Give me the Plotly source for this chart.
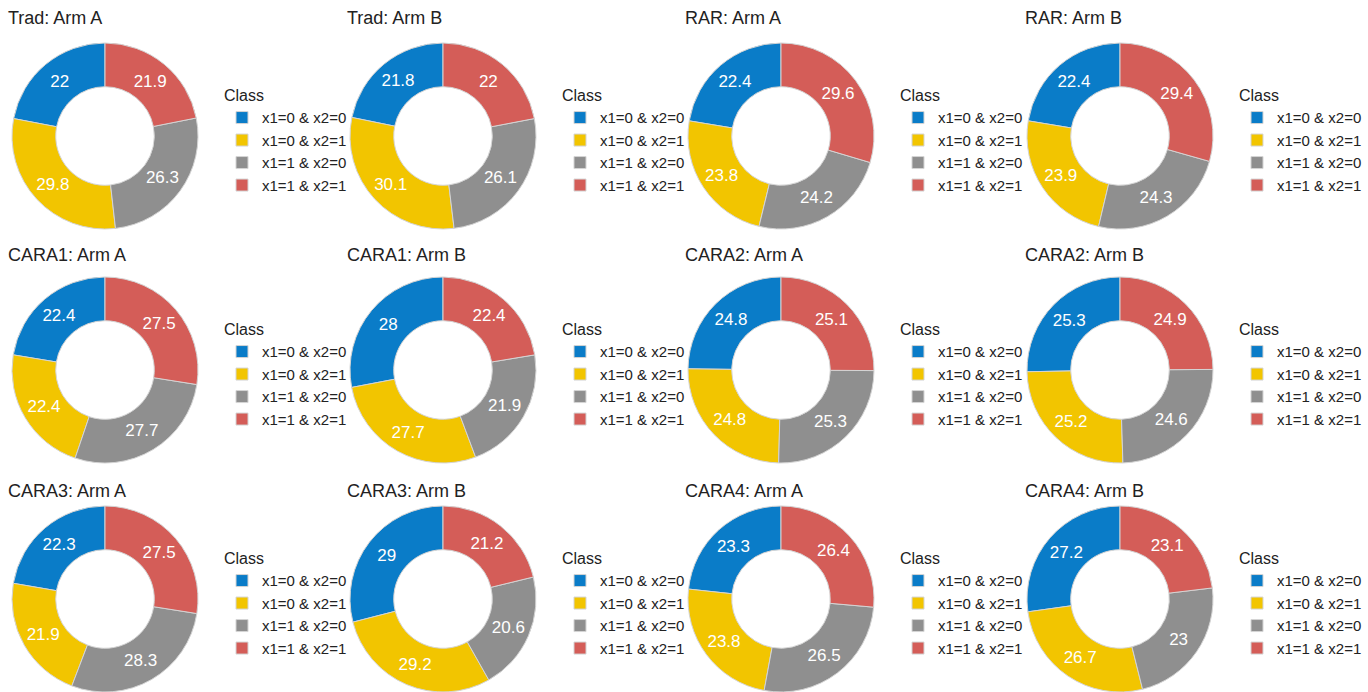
import plotly.graph_objects as go

W, H = 1368, 692

classes = ["x1=0 & x2=0", "x1=0 & x2=1", "x1=1 & x2=0", "x1=1 & x2=1"]
class_colors = ["#0A7CC8", "#F2C500", "#8F8F8F", "#D45D58"]

panel_titles = [
    "Trad: Arm A", "Trad: Arm B", "RAR: Arm A", "RAR: Arm B",
    "CARA1: Arm A", "CARA1: Arm B", "CARA2: Arm A", "CARA2: Arm B",
    "CARA3: Arm A", "CARA3: Arm B", "CARA4: Arm A", "CARA4: Arm B",
]

# percentage of each class per design/arm, in the order of `classes`
trad_a = [22, 29.8, 26.3, 21.9]
trad_b = [21.8, 30.1, 26.1, 22]
rar_a = [22.4, 23.8, 24.2, 29.6]
rar_b = [22.4, 23.9, 24.3, 29.4]
cara1_a = [22.4, 22.4, 27.7, 27.5]
cara1_b = [28, 27.7, 21.9, 22.4]
cara2_a = [24.8, 24.8, 25.3, 25.1]
cara2_b = [25.3, 25.2, 24.6, 24.9]
cara3_a = [22.3, 21.9, 28.3, 27.5]
cara3_b = [29, 29.2, 20.6, 21.2]
cara4_a = [23.3, 23.8, 26.5, 26.4]
cara4_b = [27.2, 26.7, 23, 23.1]

panel_values = [
    trad_a, trad_b, rar_a, rar_b,
    cara1_a, cara1_b, cara2_a, cara2_b,
    cara3_a, cara3_b, cara4_a, cara4_b,
]

# grid geometry in pixels
col_cx = [105, 443, 781, 1120]
row_cy = [136, 370, 599]
radius = 93
title_x = [6, 345, 683, 1023]
title_y = [18, 255, 491]
legend_x = [222, 560, 898, 1237]

FONT = "Liberation Sans, Arial, Helvetica, sans-serif"

fig = go.Figure()
annotations = []
legends = {}

for i, (title, vals) in enumerate(zip(panel_titles, panel_values)):
    r, c = divmod(i, 4)
    cx, cy = col_cx[c], row_cy[r]
    x0, x1 = (cx - radius) / W, (cx + radius) / W
    y0 = max(0.0, 1 - (cy + radius) / H)
    y1 = min(1.0, 1 - (cy - radius) / H)
    leg = "legend" if i == 0 else f"legend{i + 1}"
    # counterclockwise slices; rotate so the first class begins at 12 o'clock
    first_share = 360.0 * vals[0] / sum(vals)
    fig.add_trace(go.Pie(
        labels=classes,
        values=vals,
        hole=0.53,
        sort=False,
        direction="counterclockwise",
        rotation=-first_share,
        marker=dict(colors=class_colors, line=dict(color="#d4d4d4", width=1)),
        texttemplate="%{value}",
        textposition="inside",
        insidetextorientation="horizontal",
        textfont=dict(color="white", size=17, family=FONT),
        domain=dict(x=[x0, x1], y=[y0, y1]),
        legend=leg,
        legendgroup=f"panel{i}",
        showlegend=True,
        name=title,
    ))
    legends[leg] = dict(
        x=legend_x[c] / W,
        y=1 - (cy + 5) / H,
        xanchor="left",
        yanchor="middle",
        title=dict(text="Class", font=dict(size=16, color="#222222", family=FONT)),
        font=dict(size=15, color="#222222", family=FONT),
        bgcolor="rgba(0,0,0,0)",
        itemclick=False,
    )
    annotations.append(dict(
        x=title_x[c] / W, y=1 - title_y[r] / H,
        xref="paper", yref="paper",
        xanchor="left", yanchor="middle",
        text=title, showarrow=False,
        font=dict(size=18, color="#222222", family=FONT),
    ))

fig.update_layout(
    width=W, height=H,
    margin=dict(l=0, r=0, t=0, b=0),
    paper_bgcolor="white",
    plot_bgcolor="white",
    annotations=annotations,
    font=dict(family=FONT),
    **legends,
)

fig.write_html("out.html")
